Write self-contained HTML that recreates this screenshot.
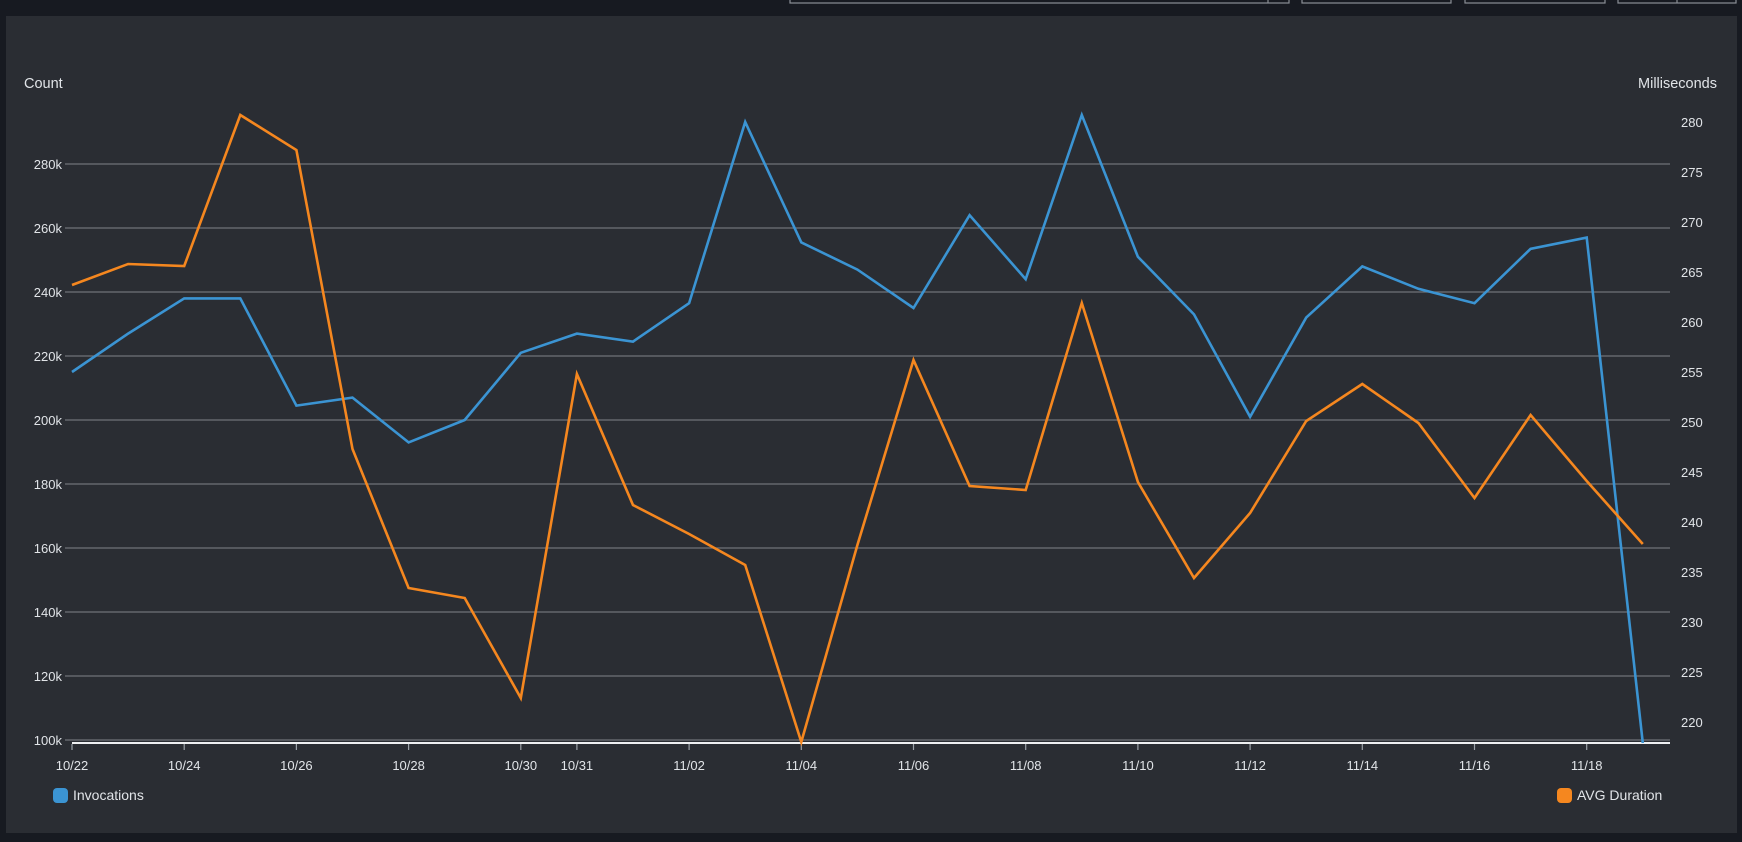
<!DOCTYPE html>
<html><head><meta charset="utf-8"><style>
html,body{margin:0;padding:0;background:#171a21;}
svg{display:block;font-family:"Liberation Sans",sans-serif;}
</style></head><body>
<svg width="1742" height="842" viewBox="0 0 1742 842" xmlns="http://www.w3.org/2000/svg">
<rect width="1742" height="842" fill="#171a21"/>
<g fill="none" stroke="#8a8f96" stroke-width="1.2">
<rect x="790" y="-5" width="499" height="8"/>
<line x1="1268" y1="0" x2="1268" y2="3"/>
<rect x="1302" y="-5" width="149" height="8"/>
<rect x="1465" y="-5" width="140" height="8"/>
<rect x="1618" y="-5" width="118" height="8"/>
<line x1="1677" y1="0" x2="1677" y2="3"/>
</g>
<rect x="6" y="16" width="1731" height="817" fill="#2a2d33"/>
<g stroke="#6f7379" stroke-width="1.3">
<line x1="65" y1="164" x2="1670" y2="164"/>
<line x1="65" y1="228" x2="1670" y2="228"/>
<line x1="65" y1="292" x2="1670" y2="292"/>
<line x1="65" y1="356" x2="1670" y2="356"/>
<line x1="65" y1="420" x2="1670" y2="420"/>
<line x1="65" y1="484" x2="1670" y2="484"/>
<line x1="65" y1="548" x2="1670" y2="548"/>
<line x1="65" y1="612" x2="1670" y2="612"/>
<line x1="65" y1="676" x2="1670" y2="676"/>
<line x1="65" y1="740" x2="1670" y2="740"/>
</g>
<line x1="72" y1="743" x2="1670" y2="743" stroke="#eef0f2" stroke-width="2"/>
<g stroke="#9aa0a6" stroke-width="1.2">
<line x1="72" y1="744" x2="72" y2="750"/><line x1="184.2" y1="744" x2="184.2" y2="750"/>
<line x1="296.4" y1="744" x2="296.4" y2="750"/><line x1="408.6" y1="744" x2="408.6" y2="750"/>
<line x1="520.8" y1="744" x2="520.8" y2="750"/><line x1="576.9" y1="744" x2="576.9" y2="750"/>
<line x1="689.1" y1="744" x2="689.1" y2="750"/><line x1="801.3" y1="744" x2="801.3" y2="750"/>
<line x1="913.5" y1="744" x2="913.5" y2="750"/><line x1="1025.7" y1="744" x2="1025.7" y2="750"/>
<line x1="1137.9" y1="744" x2="1137.9" y2="750"/><line x1="1250.1" y1="744" x2="1250.1" y2="750"/>
<line x1="1362.3" y1="744" x2="1362.3" y2="750"/><line x1="1474.5" y1="744" x2="1474.5" y2="750"/>
<line x1="1586.7" y1="744" x2="1586.7" y2="750"/>
</g>
<g fill="#e1e4e8" font-size="13">
<text x="24" y="88" font-size="14.5">Count</text>
<text x="1717" y="88" font-size="14.5" text-anchor="end">Milliseconds</text>
<g text-anchor="end">
<text x="62" y="169">280k</text><text x="62" y="233">260k</text><text x="62" y="297">240k</text>
<text x="62" y="361">220k</text><text x="62" y="425">200k</text><text x="62" y="489">180k</text>
<text x="62" y="553">160k</text><text x="62" y="617">140k</text><text x="62" y="681">120k</text>
<text x="62" y="745">100k</text>
</g>
<g>
<text x="1681" y="127">280</text><text x="1681" y="177">275</text><text x="1681" y="227">270</text>
<text x="1681" y="277">265</text><text x="1681" y="327">260</text><text x="1681" y="377">255</text>
<text x="1681" y="427">250</text><text x="1681" y="477">245</text><text x="1681" y="527">240</text>
<text x="1681" y="577">235</text><text x="1681" y="627">230</text><text x="1681" y="677">225</text>
<text x="1681" y="727">220</text>
</g>
<g text-anchor="middle">
<text x="72" y="770">10/22</text><text x="184.2" y="770">10/24</text><text x="296.4" y="770">10/26</text>
<text x="408.6" y="770">10/28</text><text x="520.8" y="770">10/30</text><text x="576.9" y="770">10/31</text>
<text x="689.1" y="770">11/02</text><text x="801.3" y="770">11/04</text><text x="913.5" y="770">11/06</text>
<text x="1025.7" y="770">11/08</text><text x="1137.9" y="770">11/10</text><text x="1250.1" y="770">11/12</text>
<text x="1362.3" y="770">11/14</text><text x="1474.5" y="770">11/16</text><text x="1586.7" y="770">11/18</text>
</g>
<text x="73" y="800" font-size="14">Invocations</text>
<text x="1577" y="800" font-size="14">AVG Duration</text>
</g>
<rect x="53" y="788" width="15" height="15" rx="4" fill="#3b94d3"/>
<rect x="1557" y="788" width="15" height="15" rx="4" fill="#f5871f"/>
<polyline fill="none" stroke="#3b94d3" stroke-width="2.6" stroke-linejoin="miter" points="72,372 128.1,333.6 184.2,298.4 240.3,298.4 296.4,405.6 352.5,397.6 408.6,442.4 464.7,420 520.8,352.8 576.9,333.6 633,341.6 689.1,303.2 745.2,122 801.3,242.4 857.4,269.6 913.5,308 969.6,215.2 1025.7,279.2 1081.8,115 1137.9,256.8 1194,314.4 1250.1,416.8 1306.2,317.6 1362.3,266.4 1418.4,288.8 1474.5,303.2 1530.6,248.8 1586.7,237.6 1642.8,743"/>
<polyline fill="none" stroke="#f5871f" stroke-width="2.6" points="72,285 128.1,264 184.2,266 240.3,115 296.4,150 352.5,449 408.6,588 464.7,598 520.8,698 576.9,374 633,505 689.1,534 745.2,565 801.3,742 857.4,545 913.5,360 969.6,486 1025.7,490 1081.8,303 1137.9,482 1194,578 1250.1,513 1306.2,421 1362.3,384 1418.4,423 1474.5,498 1530.6,415 1586.7,481 1642.8,544"/>
</svg>
</body></html>
